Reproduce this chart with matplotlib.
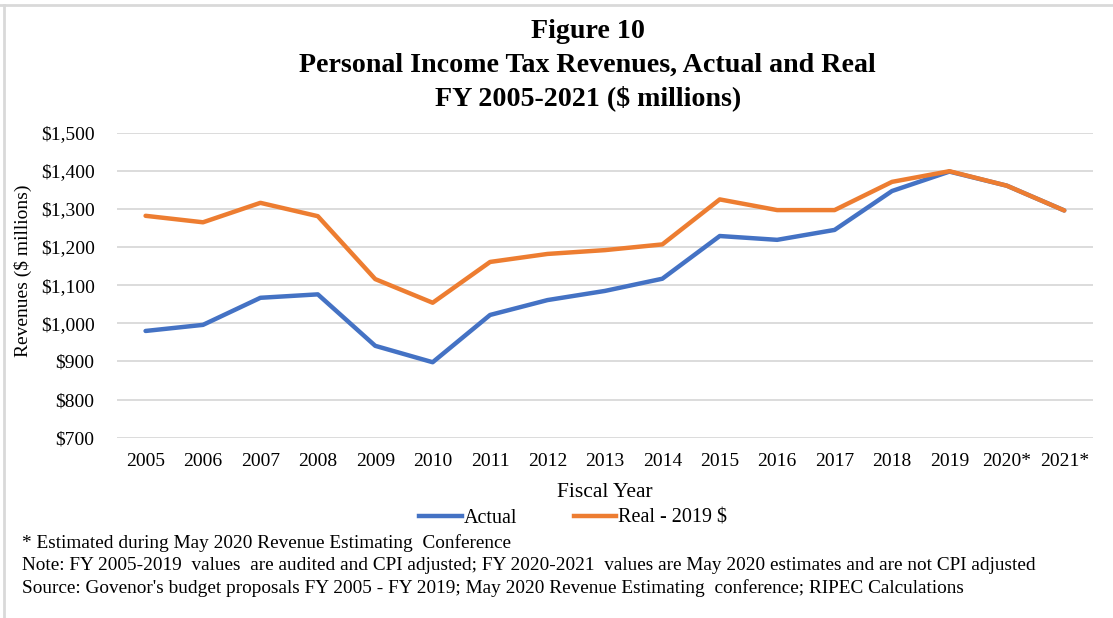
import matplotlib
matplotlib.use("Agg")
import matplotlib.pyplot as plt
from matplotlib.ticker import FuncFormatter
from matplotlib.lines import Line2D

plt.rcParams['font.family'] = ['Liberation Serif', 'DejaVu Serif']

years = ["2005", "2006", "2007", "2008", "2009", "2010", "2011", "2012", "2013",
         "2014", "2015", "2016", "2017", "2018", "2019", "2020*", "2021*"]
actual = [980, 996, 1067, 1076, 941, 898, 1022, 1061, 1085,
          1117, 1229, 1219, 1245, 1347, 1398, 1361, 1296]
real_2019 = [1282, 1265, 1316, 1281, 1116, 1054, 1161, 1182, 1192,
             1207, 1325, 1297, 1297, 1371, 1399, 1361, 1296]

title_lines = ["Figure 10",
               "Personal Income Tax Revenues, Actual and Real",
               "FY 2005-2021 ($ millions)"]
notes = ["* Estimated during May 2020 Revenue Estimating  Conference",
         "Note: FY 2005-2019  values  are audited and CPI adjusted; FY 2020-2021  values are May 2020 estimates and are not CPI adjusted",
         "Source: Govenor's budget proposals FY 2005 - FY 2019; May 2020 Revenue Estimating  conference; RIPEC Calculations"]

BLUE = "#4472C4"
ORANGE = "#ED7D31"
GRID = "#D9D9D9"

fig = plt.figure(figsize=(11.13, 6.18), dpi=100)
ax = fig.add_axes([0.105, 0.2917, 0.877, 0.4936])

x = list(range(len(years)))
ax.plot(x, actual, color=BLUE, lw=3.2, solid_capstyle='round', solid_joinstyle='round', zorder=3)
ax.plot(x, real_2019, color=ORANGE, lw=3.2, solid_capstyle='round', solid_joinstyle='round', zorder=4)

ax.set_xlim(-0.5, len(years) - 0.5)
ax.set_ylim(700, 1500)
ax.set_yticks(range(700, 1501, 100))
ax.yaxis.set_major_formatter(FuncFormatter(lambda v, p: f"${v:,.0f}"))
ax.set_xticks(x)
ax.set_xticklabels(years)
ax.grid(axis='y', color=GRID, lw=1.3)
ax.set_axisbelow(True)
for s in ax.spines.values():
    s.set_visible(False)
ax.tick_params(axis='both', length=0, labelsize=14, colors='black')
ax.tick_params(axis='x', pad=11)
ax.tick_params(axis='y', pad=16)

ax.set_xlabel("Fiscal Year", fontsize=15.5, labelpad=9)
fig.text(0.021, 1 - 271 / 618, "Revenues ($ millions)", rotation=90, fontsize=14,
         ha='center', va='center')

ys = [1 - 32 / 618, 1 - 65 / 618, 1 - 98 / 618]
for t, y in zip(title_lines, ys):
    fig.text(0.528, y, t, fontsize=20.2, fontweight='bold', ha='center', va='center')

handles = [Line2D([], [], color=BLUE, lw=3.2), Line2D([], [], color=ORANGE, lw=3.2)]
fig.legend(handles, ["Actual", "Real - 2019 $"], loc='center', bbox_to_anchor=(0.515, 1 - 518 / 618),
           ncol=2, frameon=False, fontsize=14.5, handlelength=2.1, handletextpad=0.1,
           columnspacing=2.8)

for i, t in enumerate(notes):
    fig.text(0.020, 1 - (543 + 22.5 * i) / 618, t, fontsize=13.9, ha='left', va='center')

# frame edges along the top and left
fig.add_artist(Line2D([0, 1], [1 - 4.5 / 618] * 2, color=GRID, lw=2, transform=fig.transFigure))
fig.add_artist(Line2D([3.5 / 1113] * 2, [0, 1 - 4.5 / 618], color=GRID, lw=2, transform=fig.transFigure))

fig.savefig("out.png", dpi=100)
